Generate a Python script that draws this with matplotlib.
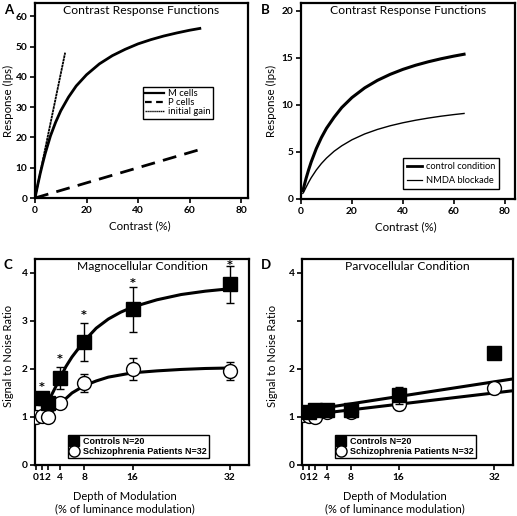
import matplotlib
matplotlib.use("Agg")
import matplotlib.pyplot as plt
from matplotlib.lines import Line2D

plt.rcParams['font.family'] = ['Lato', 'DejaVu Sans']

# ---------------- Panel A data ----------------
a_m_x = [0, 1, 2, 3, 4, 6, 8, 10, 13, 16, 20, 25, 30, 35, 40, 45, 50, 55, 60, 64]
a_m_y = [0, 4.1, 8.0, 11.5, 14.8, 20.5, 25.0, 28.8, 33.3, 37.0, 40.7, 44.3, 47.0, 49.1, 50.9, 52.3, 53.5, 54.5, 55.4, 56.0]
a_p_x = [0, 64]
a_p_y = [0, 16]
a_g_x = [0, 11.7]
a_g_y = [0, 48]

# ---------------- Panel B data ----------------
b_x = [0.7, 1, 2, 3, 4, 6, 8, 10, 13, 16, 20, 25, 30, 35, 40, 45, 50, 55, 60, 64]
b_ctrl = [0.9, 1.16, 2.2, 3.11, 3.94, 5.36, 6.53, 7.52, 8.7, 9.73, 10.79, 11.82, 12.62, 13.26, 13.79, 14.23, 14.6, 14.92, 15.2, 15.4]
b_nmda = [0.6, 0.7, 1.25, 1.78, 2.26, 3.08, 3.77, 4.35, 5.08, 5.66, 6.3, 6.92, 7.4, 7.79, 8.11, 8.38, 8.61, 8.81, 8.98, 9.1]

# ---------------- Panel C data ----------------
c_ctrl_x = [1, 2, 4, 8, 16, 32]
c_ctrl_y = [1.39, 1.29, 1.81, 2.56, 3.24, 3.76]
c_ctrl_e = [0.14, 0.12, 0.23, 0.40, 0.47, 0.39]
c_pat_x = [0, 1, 2, 4, 8, 16, 32]
c_pat_y = [1.0, 1.03, 0.99, 1.3, 1.7, 2.0, 1.96]
c_pat_e = [0.05, 0.06, 0.06, 0.1, 0.19, 0.22, 0.18]
c_star_x = [1, 4, 8, 16, 32]
c_star_y = [1.62, 2.2, 3.13, 3.8, 4.17]
c_fit_x = [1, 2, 3, 4, 5, 6, 8, 10, 12, 14, 16, 20, 24, 28, 32]
c_fit_ctrl = [1.3, 1.3, 1.55, 1.8, 2.05, 2.25, 2.58, 2.85, 3.04, 3.18, 3.29, 3.44, 3.55, 3.62, 3.67]
c_fitp_x = [0, 1, 2, 3, 4, 6, 8, 10, 12, 16, 20, 24, 28, 32]
c_fit_pat = [0.98, 1.0, 1.05, 1.15, 1.27, 1.5, 1.65, 1.75, 1.83, 1.92, 1.96, 1.99, 2.01, 2.02]

# ---------------- Panel D data ----------------
d_ctrl_x = [1, 2, 4, 8, 16, 32]
d_ctrl_y = [1.1, 1.15, 1.15, 1.15, 1.45, 2.33]
d_ctrl_e = [0.1, 0.12, 0.1, 0.1, 0.17, 0.1]
d_pat_x = [0, 1, 2, 4, 8, 16, 32]
d_pat_y = [1.05, 1.03, 1.0, 1.1, 1.1, 1.27, 1.6]
d_pat_e = [0.05, 0.06, 0.07, 0.1, 0.08, 0.12, 0.12]
d_line_x = [0, 36]
d_line_ctrl = [1.12, 1.81]
d_line_pat = [1.03, 1.56]

ticks_c = [0, 1, 2, 4, 8, 16, 32]

W, H = 517, 516
fig = plt.figure(figsize=(W / 100, H / 100), dpi=100)

def axpx(l, r, t, b):
    return fig.add_axes([l / W, 1 - b / H, (r - l) / W, (b - t) / H])

axA = axpx(35, 248, 3, 198)
axB = axpx(301, 515, 3, 199)
axC = axpx(35, 249, 259, 465)
axD = axpx(302, 513, 259, 465)

for ax in (axA, axB, axC, axD):
    for s in ax.spines.values():
        s.set_linewidth(1.6)
    ax.tick_params(direction='out', length=3.5, width=1.2, labelsize=7.3, pad=2)

# ---- A ----
axA.plot(a_m_x, a_m_y, color='black', lw=2.0)
axA.plot(a_p_x, a_p_y, color='black', lw=2.0, dashes=(5, 3))
axA.plot(a_g_x, a_g_y, color='black', lw=1.3, dashes=(1.5, 0.3))
axA.set_xlim(0, 82.7)
axA.set_ylim(0, 64.4)
axA.set_xticks([0, 20, 40, 60, 80])
axA.set_yticks([0, 10, 20, 30, 40, 50, 60])
axA.set_xlabel('Contrast (%)', fontsize=8.3)
axA.xaxis.set_label_coords(0.49, -0.115)
axA.set_ylabel('Response (Ips)', fontsize=8.3)
axA.yaxis.set_label_coords(-0.1, 0.5)
axA.set_title('Contrast Response Functions', fontsize=8.7, y=0.9)
hA = [Line2D([], [], color='black', lw=1.6),
      Line2D([], [], color='black', lw=1.6, dashes=(3, 2)),
      Line2D([], [], color='black', lw=1.0, dashes=(1, 0.4))]
legA = axA.legend(hA, ['M cells', 'P cells', 'initial gain'], loc='upper left',
                  bbox_to_anchor=((143 - 35) / 213, 1 - (87 - 3) / 195), fontsize=6.8,
                  handlelength=2.0, handletextpad=0.4, labelspacing=0.0, borderpad=0.25,
                  fancybox=False, framealpha=1, edgecolor='black', borderaxespad=0)
legA.get_frame().set_linewidth(1.0)

# ---- B ----
axB.plot(b_x, b_ctrl, color='black', lw=2.2)
axB.plot(b_x, b_nmda, color='black', lw=1.0)
axB.set_xlim(0, 84)
axB.set_ylim(0, 20.85)
axB.set_xticks([0, 20, 40, 60, 80])
axB.set_yticks([0, 5, 10, 15, 20])
axB.set_xlabel('Contrast (%)', fontsize=8.3)
axB.xaxis.set_label_coords(0.49, -0.115)
axB.set_ylabel('Response (Ips)', fontsize=8.3)
axB.yaxis.set_label_coords(-0.112, 0.5)
axB.set_title('Contrast Response Functions', fontsize=8.7, y=0.9)
hB = [Line2D([], [], color='black', lw=2.0), Line2D([], [], color='black', lw=0.9)]
legB = axB.legend(hB, ['control condition', 'NMDA blockade'], loc='upper left',
                  bbox_to_anchor=((403 - 301) / 214, 1 - (158 - 3) / 196), fontsize=6.7,
                  handlelength=1.6, handletextpad=0.4, labelspacing=0.55, borderpad=0.45,
                  fancybox=False, framealpha=1, edgecolor='black', borderaxespad=0)
legB.get_frame().set_linewidth(1.0)

# ---- C ----
axC.plot(c_fit_x, c_fit_ctrl, color='black', lw=2.2, zorder=2)
axC.plot(c_fitp_x, c_fit_pat, color='black', lw=2.2, zorder=2)
axC.errorbar(c_ctrl_x, c_ctrl_y, yerr=c_ctrl_e, fmt='s', color='black', ms=9.5,
             capsize=3, elinewidth=1.0, capthick=1.0, zorder=4)
axC.errorbar(c_pat_x, c_pat_y, yerr=c_pat_e, fmt='o', mfc='white', mec='black', mew=1.0,
             color='black', ms=10, capsize=3, elinewidth=1.0, capthick=1.0, zorder=3)
for x, y in zip(c_star_x, c_star_y):
    axC.text(x, y, '*', ha='center', va='center', fontsize=8, fontweight='bold',
             family='DejaVu Sans')
axC.set_xlim(-0.1, 35.2)
axC.set_ylim(0, 4.29)
axC.set_xticks(ticks_c)
axC.set_xticklabels([str(t) for t in ticks_c])
axC.set_yticks([0, 1, 2, 3, 4])
axC.set_xlabel('Depth of Modulation\n(% of luminance modulation)', fontsize=8, linespacing=1.2)
axC.xaxis.set_label_coords(0.42, -0.125)
axC.set_ylabel('Signal to Noise Ratio', fontsize=8)
axC.yaxis.set_label_coords(-0.098, 0.53)
axC.set_title('Magnocellular Condition', fontsize=8.7, y=0.905)

hC = [Line2D([], [], marker='s', color='black', ls='none', ms=7),
      Line2D([], [], marker='o', mfc='white', mec='black', ls='none', ms=8, mew=1.0)]

def legCD(ax, lpx, tpx, l0, r0):
    lg = ax.legend(hC, ['Controls N=20', 'Schizophrenia Patients N=32'], loc='upper left',
                   bbox_to_anchor=((lpx - l0) / (r0 - l0), 1 - (tpx - 259) / 206),
                   prop={'family': 'Liberation Sans', 'weight': 'bold', 'size': 6.5},
                   handlelength=0.9, handletextpad=0.6, labelspacing=0.15, borderpad=0.2,
                   fancybox=False, framealpha=1, edgecolor='black', borderaxespad=0)
    lg.get_frame().set_linewidth(1.0)

legCD(axC, 68, 435, 35, 249)

# ---- D ----
axD.plot(d_line_x, d_line_ctrl, color='black', lw=2.2, zorder=2)
axD.plot(d_line_x, d_line_pat, color='black', lw=2.2, zorder=2)
axD.errorbar(d_ctrl_x, d_ctrl_y, yerr=d_ctrl_e, fmt='s', color='black', ms=9.5,
             capsize=3, elinewidth=1.0, capthick=1.0, zorder=4)
axD.errorbar(d_pat_x, d_pat_y, yerr=d_pat_e, fmt='o', mfc='white', mec='black', mew=1.0,
             color='black', ms=10, capsize=3, elinewidth=1.0, capthick=1.0, zorder=3)
axD.set_xlim(-0.1, 35.1)
axD.set_ylim(0, 4.29)
axD.set_xticks(ticks_c)
axD.set_xticklabels([str(t) for t in ticks_c])
axD.set_yticks([0, 1, 2, 3, 4])
axD.set_yticklabels(['0', '1', '2', '', '4'])
axD.set_xlabel('Depth of Modulation\n(% of luminance modulation)', fontsize=8, linespacing=1.2)
axD.xaxis.set_label_coords(0.44, -0.125)
axD.set_ylabel('Signal to Noise Ratio', fontsize=8)
axD.yaxis.set_label_coords(-0.114, 0.53)
axD.set_title('Parvocellular Condition', fontsize=8.7, y=0.905)
legCD(axD, 335, 435, 302, 513)

for ax in (axA, axB, axC, axD):
    for lab in ax.get_xticklabels() + ax.get_yticklabels():
        lab.set_fontweight('bold')

for letter, x, y in [('A', 4, 10), ('B', 261, 10), ('C', 4, 265), ('D', 261, 265)]:
    fig.text(x / W, 1 - y / H, letter, fontsize=9.5, fontweight='bold', va='center')

fig.savefig('out.png', dpi=100)
